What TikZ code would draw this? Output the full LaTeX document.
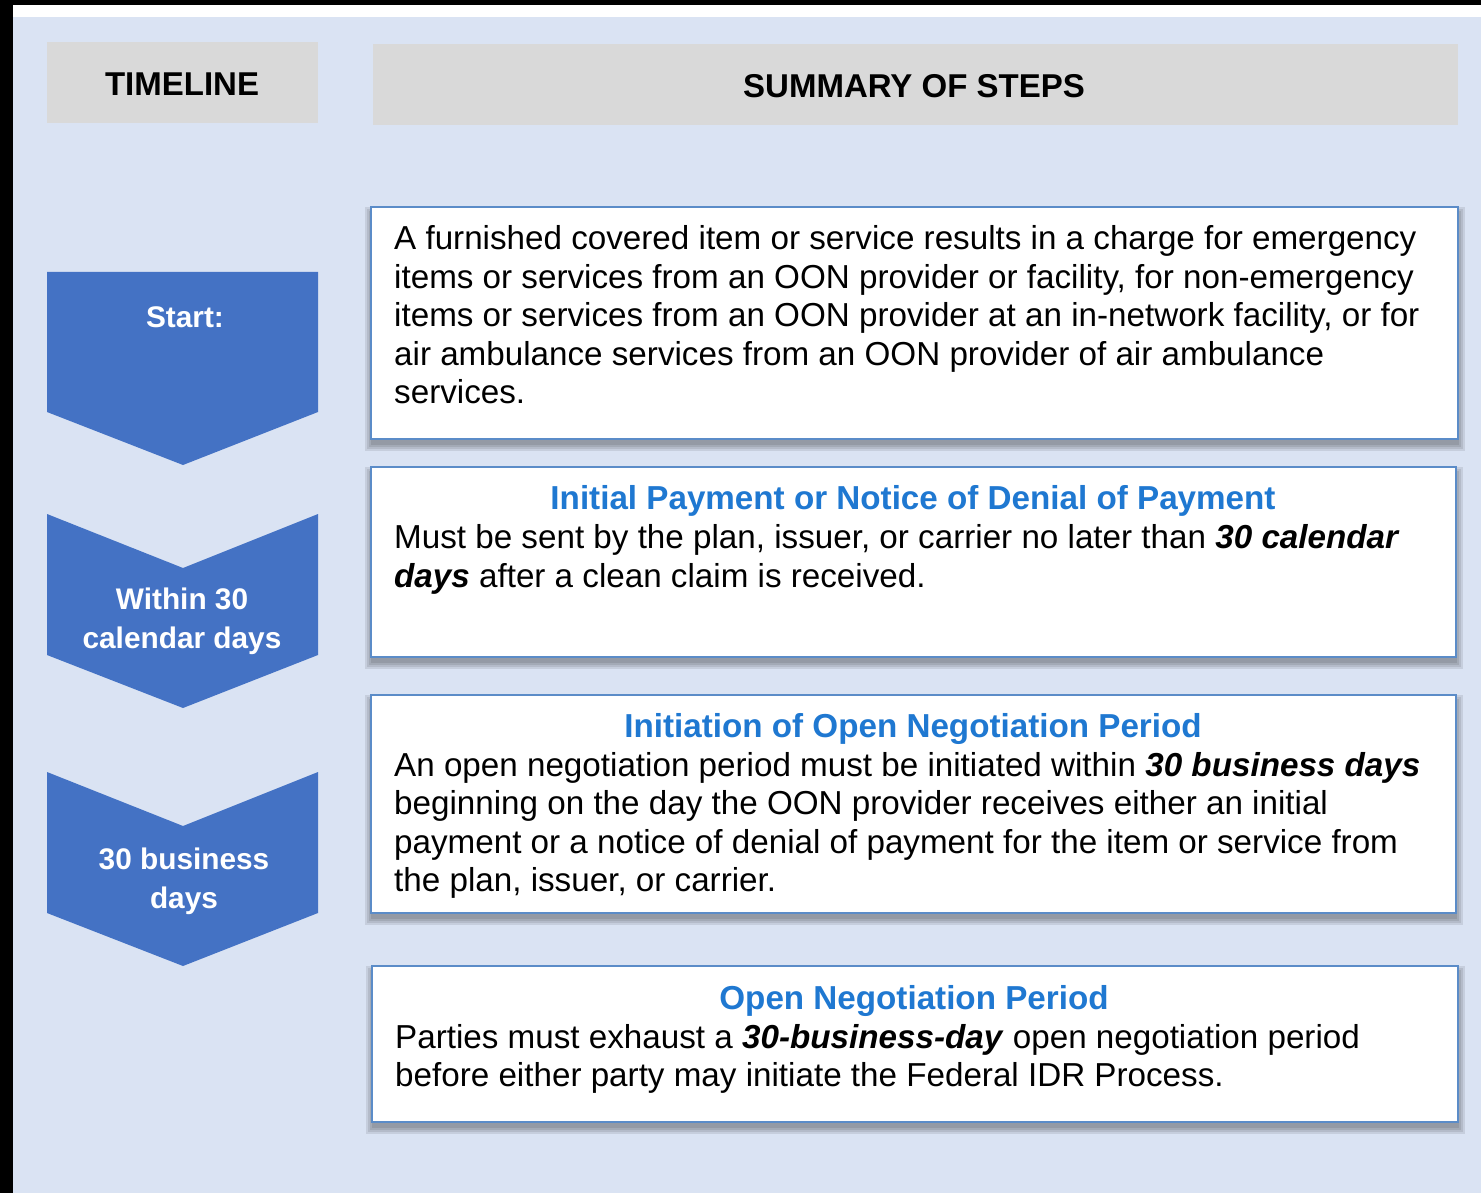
\documentclass[tikz,border=0pt]{standalone}
\usepackage{fontspec}
\setmainfont{Liberation Sans}
\definecolor{bgblue}{HTML}{DAE3F3}
\definecolor{hdrgray}{HTML}{D9D9D9}
\definecolor{chevblue}{HTML}{4472C4}
\definecolor{boxedge}{HTML}{5B8CC8}
\definecolor{titleblue}{HTML}{1F78D1}
\newcommand{\bitext}[1]{\textbf{\textit{#1}}}
\tikzset{
  hdr/.style={fill=hdrgray, draw=none},
  hdrtext/.style={font=\fontsize{33}{38.5}\selectfont\bfseries, text=black, inner sep=0pt, anchor=base},
  chev/.style={fill=chevblue, draw=none},
  chevtext/.style={font=\fontsize{29.8}{39}\selectfont\bfseries, text=white, inner sep=0pt, anchor=base, align=center},
  stepbox/.style={fill=white, draw=boxedge, line width=2.5pt},
  shade/.style={fill=black, opacity=0.09, draw=none},
  steptitle/.style={font=\fontsize{33.2}{38.5}\selectfont\bfseries, text=titleblue, inner sep=0pt, anchor=base},
  steptext/.style={font=\fontsize{33.2}{38.5}\selectfont, text=black, inner sep=0pt, anchor=base west, align=left},
}
\newcommand{\shadowbox}[4]{%
  \foreach \e in {0,2,4,6}{%
    \fill[shade] (#1-\e,#2-\e+6) rectangle (#3+\e+1,#4+\e+6);
  }%
}
\begin{document}
\begin{tikzpicture}[x=1pt,y=-1pt]
\useasboundingbox (0,0) rectangle (1481,1193);
\fill[black] (0,0) rectangle (1481,1193);
\fill[white] (13,5) rectangle (1481,17);
\fill[bgblue] (13,17) rectangle (1481,1193);

% headers
\fill[hdr] (47,42) rectangle (318,123);
\node[hdrtext] (tl) at (182,96) {TIMELINE};
\fill[hdr] (373,44) rectangle (1458,125);
\node[hdrtext] (ss) at (914,98) {SUMMARY OF STEPS};

% chevrons (base anchor = baseline of last line)
\fill[chev] (47,272) -- (318,272) -- (318,412) -- (183,465) -- (47,412) -- cycle;
\node[chevtext] (c1) at (185,327) {Start:};
\fill[chev] (47,514) -- (183,568) -- (318,514) -- (318,655) -- (183,708) -- (47,655) -- cycle;
\node[chevtext] (c2) at (182,648) {Within 30\\calendar days};
\fill[chev] (47,772) -- (183,826) -- (318,772) -- (318,913) -- (183,966) -- (47,913) -- cycle;
\node[chevtext] (c3) at (184,908) {30 business\\days};

% step boxes (text anchored at baseline of last line)
\shadowbox{371}{207}{1458}{439}
\draw[stepbox] (371,207) rectangle (1458,439);
\node[steptext] (t1) at (394,403.5) {A furnished covered item or service results in a charge for emergency\\items or services from an OON provider or facility, for non-emergency\\items or services from an OON provider at an in-network facility, or for\\air ambulance services from an OON provider of air ambulance\\services.};

\shadowbox{371}{467}{1456}{657}
\draw[stepbox] (371,467) rectangle (1456,657);
\node[steptitle] (h2) at (913,509) {Initial Payment or Notice of Denial of Payment};
\node[steptext] (t2) at (394,587) {Must be sent by the plan, issuer, or carrier no later than \bitext{30 calendar}\\\bitext{days} after a clean claim is received.};

\shadowbox{371}{695}{1456}{913}
\draw[stepbox] (371,695) rectangle (1456,913);
\node[steptitle] (h3) at (913,737) {Initiation of Open Negotiation Period};
\node[steptext] (t3) at (394,891.5) {An open negotiation period must be initiated within \bitext{30 business days}\\beginning on the day the OON provider receives either an initial\\payment or a notice of denial of payment for the item or service from\\the plan, issuer, or carrier.};

\shadowbox{372}{966}{1458}{1122}
\draw[stepbox] (372,966) rectangle (1458,1122);
\node[steptitle] (h4) at (914,1009) {Open Negotiation Period};
\node[steptext] (t4) at (395,1086.5) {Parties must exhaust a \bitext{30-business-day} open negotiation period\\before either party may initiate the Federal IDR Process.};
\end{tikzpicture}
\end{document}
